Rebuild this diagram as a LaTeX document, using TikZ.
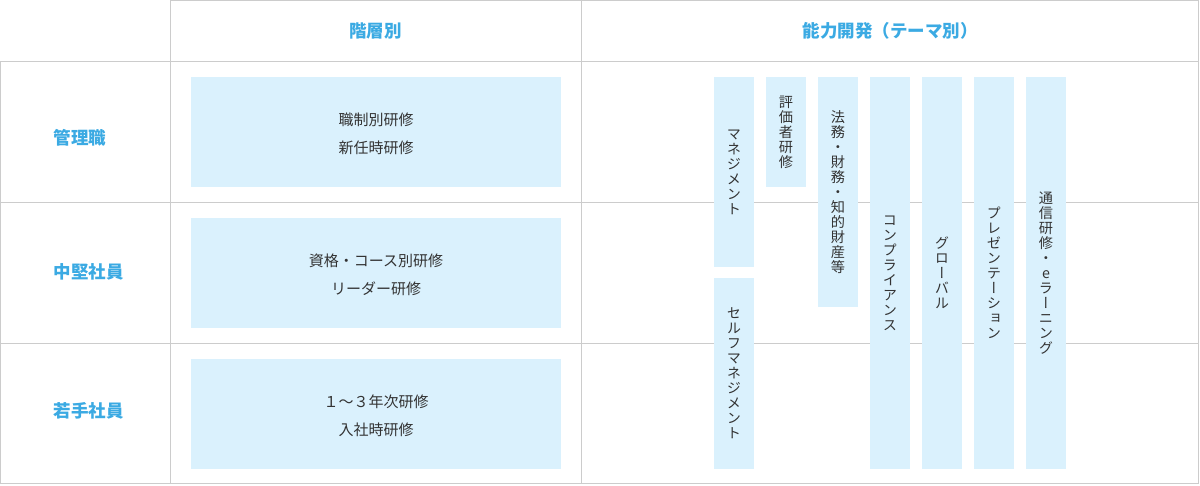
\documentclass[tikz,border=0pt]{standalone}
\usepackage{fontspec}
\setmainfont{Noto Sans CJK JP}
\newfontfamily\vfont[RawFeature=+vert]{Noto Sans CJK JP}
\definecolor{linegray}{HTML}{CCCCCC}
\definecolor{boxblue}{HTML}{DAF1FD}
\definecolor{headblue}{HTML}{3BAAE3}
\definecolor{txtgray}{HTML}{333333}
\begin{document}
\begin{tikzpicture}[x=1pt,y=-1pt,
  gridline/.style={draw=linegray,line width=1pt},
  head/.style={text=headblue,font=\bfseries\fontsize{17.5}{20}\selectfont,inner sep=0pt},
  hbox/.style={fill=boxblue,draw=none,inner sep=0pt,minimum width=370pt,minimum height=110pt},
  htext/.style={text=txtgray,align=center,inner sep=0pt,font=\fontsize{15}{28}\selectfont},
  vbox/.style={fill=boxblue,draw=none,inner sep=0pt,minimum width=40pt,
    text=txtgray,align=center,font=\vfont\fontsize{14.2}{15}\selectfont}]
\useasboundingbox (0,0) rectangle (1200,485);
\fill[white] (0,0) rectangle (1200,485);
% grid
\draw[gridline] (170.5,0.5) -- (1198.5,0.5);
\draw[gridline] (0,61.5) -- (1198.5,61.5);
\draw[gridline] (0,202.5) -- (1198.5,202.5);
\draw[gridline] (0,343.5) -- (1198.5,343.5);
\draw[gridline] (0,483.5) -- (1198.5,483.5);
\draw[gridline] (0.5,61.5) -- (0.5,483.5);
\draw[gridline] (170.5,0) -- (170.5,483.5);
\draw[gridline] (581.5,0) -- (581.5,483.5);
\draw[gridline] (1198.5,0) -- (1198.5,483.5);
% headers
\node[head] (hA) at (375.5,31) {階層別};
\node[head] (hB) at (890,31) {能力開発（テーマ別）};
\node[head] (r1) at (80,138) {管理職};
\node[head] (r2) at (88.5,272) {中堅社員};
\node[head] (r3) at (88.5,411) {若手社員};
% level boxes
\node[hbox] (b1) at (376,132) {};
\node[hbox] (b2) at (376,273) {};
\node[hbox] (b3) at (376,414) {};
\node[htext] (b1t) at ([yshift=-2pt]b1.center) {職制別研修\\新任時研修};
\node[htext] (b2t) at ([yshift=-2pt]b2.center) {資格・コース別研修\\リーダー研修};
\node[htext] (b3t) at ([yshift=-2pt]b3.center) {１～３年次研修\\入社時研修};
% theme boxes
\node[vbox,minimum height=190pt] (t1) at (734,172) {マ\\ネ\\ジ\\メ\\ン\\ト};
\node[vbox,minimum height=191pt] (t2) at (734,373.5) {セ\\ル\\フ\\マ\\ネ\\ジ\\メ\\ン\\ト};
\node[vbox,minimum height=110pt] (t3) at (786,132) {評\\価\\者\\研\\修};
\node[vbox,minimum height=230pt] (t4) at (838,192) {法\\務\\・\\財\\務\\・\\知\\的\\財\\産\\等};
\node[vbox,minimum height=392pt] (t5) at (890,273) {コ\\ン\\プ\\ラ\\イ\\ア\\ン\\ス};
\node[vbox,minimum height=392pt] (t6) at (942,273) {グ\\ロ\\ー\\バ\\ル};
\node[vbox,minimum height=392pt] (t7) at (994,273) {プ\\レ\\ゼ\\ン\\テ\\ー\\シ\\ョ\\ン};
\node[vbox,minimum height=392pt] (t8) at (1046,273) {通\\信\\研\\修\\・\\e\\ラ\\ー\\ニ\\ン\\グ};
\end{tikzpicture}
\end{document}
